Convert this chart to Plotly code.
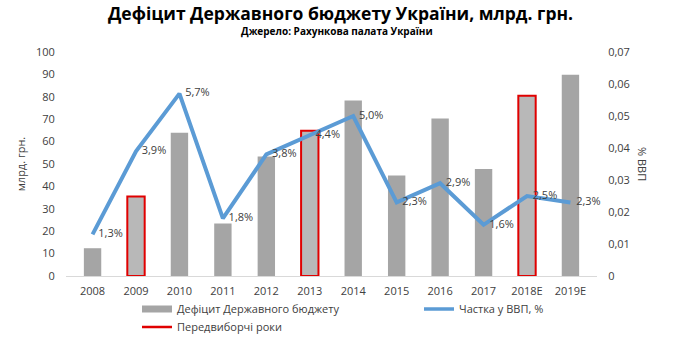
import plotly.graph_objects as go

years = ["2008", "2009", "2010", "2011", "2012", "2013", "2014", "2015", "2016", "2017", "2018E", "2019E"]
deficit = [12.4, 35.5, 63.9, 23.4, 53.4, 64.8, 78.3, 44.9, 70.3, 47.8, 80.5, 89.8]
gdp_share = [0.013, 0.039, 0.057, 0.018, 0.038, 0.044, 0.050, 0.023, 0.029, 0.016, 0.025, 0.023]
election_years = ["2009", "2013", "2018E"]

FONT = "Open Sans"
GRAY_TXT = "#404040"
BAR_GRAY = "#a5a5a5"
RED = "#e00000"
BLUE = "#5b9bd5"

bar_colors = ["#b8b8b8" if y in election_years else BAR_GRAY for y in years]
line_colors = [RED if y in election_years else "rgba(0,0,0,0)" for y in years]
labels = ["\u00a0\u00a0" + f"{v*100:.1f}%".replace(".", ",") for v in gdp_share]

fig = go.Figure()
fig.add_trace(go.Bar(
    x=years, y=deficit, name="Дефіцит Державного бюджету",
    marker=dict(color=bar_colors, line=dict(color=line_colors, width=2)),
    width=0.4, showlegend=False,
))
fig.add_trace(go.Scatter(
    x=years, y=gdp_share, name="Частка у ВВП, %", yaxis="y2",
    mode="lines+text", text=labels, textposition="middle right",
    textfont=dict(size=11, color=GRAY_TXT, family=FONT), cliponaxis=False,
    line=dict(color=BLUE, width=4), showlegend=False,
))
# legend entries
fig.add_trace(go.Scatter(x=[None], y=[None], name="Дефіцит Державного бюджету", mode="lines",
                         line=dict(color=BAR_GRAY, width=7), legend="legend"))
fig.add_trace(go.Scatter(x=[None], y=[None], name="Частка у ВВП, %", mode="lines",
                         line=dict(color=BLUE, width=3.5), legend="legend2"))
fig.add_trace(go.Scatter(x=[None], y=[None], name="Передвиборчі роки", mode="lines",
                         line=dict(color=RED, width=2.5), legend="legend3"))

W, H = 681, 337
L, R, T, B = 66, 84, 52, 61
PW, PH = W - L - R, H - T - B

def px_x(x):
    return (x - L) / PW

def px_y(y):
    return (H - B - y) / PH

leg_common = dict(orientation="h", xref="paper", yref="paper", yanchor="middle",
                  font=dict(size=11, color=GRAY_TXT), bgcolor="rgba(0,0,0,0)",
                  borderwidth=0)

fig.update_layout(
    width=W, height=H,
    margin=dict(l=L, r=R, t=T, b=B, autoexpand=False),
    paper_bgcolor="white", plot_bgcolor="white",
    separators=", ",
    font=dict(family=FONT, size=11, color=GRAY_TXT),
    showlegend=True,
    title=dict(
        text="<b>Дефіцит Державного бюджету України, млрд. грн.</b>",
        x=0.5, xref="container", y=1 - 14 / H, yanchor="middle", xanchor="center",
        font=dict(size=17.5, color="#000000", family=FONT),
    ),
    xaxis=dict(showline=True, linecolor="#d9d9d9", linewidth=1,
               ticks="outside", ticklen=5, tickcolor="rgba(0,0,0,0)",
               tickfont=dict(size=11, color=GRAY_TXT)),
    yaxis=dict(range=[0, 100], dtick=10,
               showgrid=False, zeroline=False,
               ticks="outside", ticklen=8, tickcolor="rgba(0,0,0,0)",
               tickfont=dict(size=11, color=GRAY_TXT),
               title=dict(text="млрд. грн.", font=dict(size=11, color=GRAY_TXT), standoff=8)),
    yaxis2=dict(range=[0, 0.07], dtick=0.01, overlaying="y", side="right",
                showgrid=False, zeroline=False,
                ticks="outside", ticklen=8, tickcolor="rgba(0,0,0,0)",
                tickfont=dict(size=11, color=GRAY_TXT)),
    legend=dict(x=px_x(137), y=px_y(309), **leg_common),
    legend2=dict(x=px_x(419), y=px_y(309), **leg_common),
    legend3=dict(x=px_x(137), y=px_y(327), **leg_common),
    annotations=[
        dict(text="<b>Джерело: Рахункова палата України</b>", x=px_x(337), xref="paper",
             xanchor="center", y=px_y(31), yref="paper", yanchor="middle", showarrow=False,
             font=dict(size=10, color="#000000")),
        dict(text="% ВВП", textangle=90, x=px_x(643), xref="paper", xanchor="center",
             y=px_y(164), yanchor="middle", yref="paper", showarrow=False,
             font=dict(size=11, color=GRAY_TXT)),
    ],
)

fig.write_html("out.html")
